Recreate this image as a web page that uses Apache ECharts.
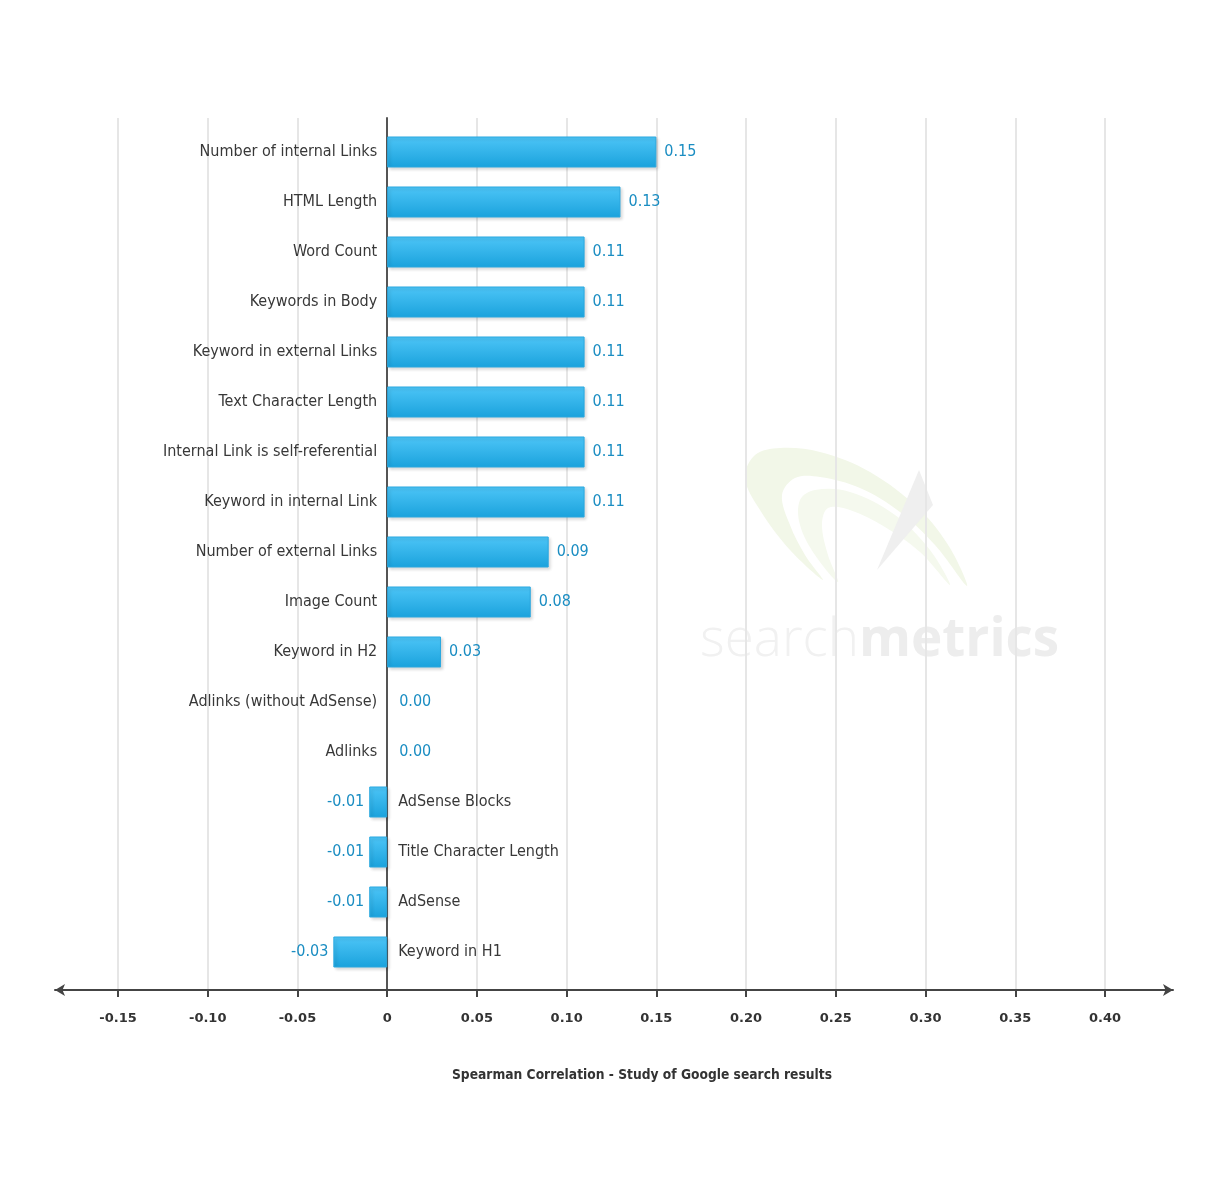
<!DOCTYPE html>
<html>
<head>
<meta charset="utf-8">
<script src="https://cdn.jsdelivr.net/npm/echarts@6/dist/echarts.min.js"></script>
<style>html,body{margin:0;padding:0;background:#fff}#c{width:1221px;height:1200px}</style>
</head>
<body>
<div id="c"></div>
<script>
var categories = ["Number of internal Links","HTML Length","Word Count","Keywords in Body","Keyword in external Links","Text Character Length","Internal Link is self-referential","Keyword in internal Link","Number of external Links","Image Count","Keyword in H2","Adlinks (without AdSense)","Adlinks","AdSense Blocks","Title Character Length","AdSense","Keyword in H1"];
var values = [0.15,0.13,0.11,0.11,0.11,0.11,0.11,0.11,0.09,0.08,0.03,0.00,0.00,-0.01,-0.01,-0.01,-0.03];
var axisMin = -0.15, axisMax = 0.40, axisStep = 0.05;
var axisTitle = "Spearman Correlation - Study of Google search results";

var FONT = "DejaVu Sans Condensed, DejaVu Sans, sans-serif";
var chart = echarts.init(document.getElementById('c'));

var barData = values.map(function(v){
  var d = {
    value: v,
    label: {
      position: v < 0 ? 'left' : 'right',
      distance: v === 0 ? 12 : (v < 0 ? 5 : 8)
    }
  };
  if (v === 0) d.itemStyle = { color: 'rgba(0,0,0,0)', borderWidth: 0, borderColor: 'rgba(0,0,0,0)', shadowColor: 'rgba(0,0,0,0)', shadowBlur: 0, shadowOffsetX: 0, shadowOffsetY: 0 };
  return d;
});
var nameData = values.map(function(v, i){
  return {
    value: v,
    label: {
      position: v < 0 ? 'right' : 'left',
      distance: v < 0 ? 11 : 10,
      formatter: categories[i]
    }
  };
});

var option = {
  animation: false,
  backgroundColor: '#fff',
  title: {
    text: axisTitle,
    left: 447, top: 1063,
    textStyle: { fontFamily: FONT, fontSize: 13.7, fontWeight: 'bold', color: '#333' }
  },
  graphic: [
    { type: 'polygon', z: 0, shape: { smooth: 0.35, points: [[823,580],[790,550],[760,510],[745,478],[755,455],[780,448],[820,452],[870,472],[920,510],[950,548],[967,586],[935,545],[900,512],[860,488],[820,477],[795,478],[782,495],[790,525],[805,555]] }, style: { fill: '#f2f7e8' } },
    { type: 'polygon', z: 0, shape: { smooth: 0.35, points: [[838,582],[815,555],[800,525],[800,500],[815,490],[850,492],[895,515],[930,550],[950,585],[920,552],[885,527],[850,510],[828,508],[822,525],[828,555]] }, style: { fill: '#f5f9ee' } },
    { type: 'polygon', z: 0, shape: { points: [[919,470],[933,505],[877,570]] }, style: { fill: '#efefef' } },
    { type: 'text', z: 0, left: 700, top: 614, style: { text: '{a|search}{b|metrics}', rich: {
        a: { fontFamily: 'Open Sans, DejaVu Sans, sans-serif', fontSize: 53, fontWeight: 300, fill: '#f1f1f1' },
        b: { fontFamily: 'Open Sans, DejaVu Sans, sans-serif', fontSize: 53, fontWeight: 'bold', fill: '#ededed' }
      } } }
  ],
  grid: [
    { left: 118, right: 116, top: 118, bottom: 210 },
    { left: 55, right: 48, top: 118, bottom: 210 },
    { left: 118, right: 116, top: 127, bottom: 223 }
  ],
  xAxis: [
    {
      gridIndex: 0, type: 'value', min: axisMin, max: axisMax, interval: axisStep,
      axisLine: { show: false },
      axisTick: { show: true, length: 7, lineStyle: { color: '#444', width: 2 } },
      axisLabel: { margin: 22, fontFamily: 'DejaVu Sans, sans-serif', fontSize: 13, fontWeight: 'bold', color: '#333',
        formatter: function(v){ return Math.abs(v) < 1e-9 ? '0' : v.toFixed(2); } },
      splitLine: { show: true, lineStyle: { color: '#e6e6e6', width: 2 } }
    },
    {
      gridIndex: 1, type: 'value', min: 0, max: 1,
      axisLine: { show: true, onZero: false, symbol: ['arrow','arrow'], symbolSize: [9, 10], lineStyle: { color: '#444', width: 2 } },
      axisTick: { show: false }, axisLabel: { show: false }, splitLine: { show: false }
    },
    {
      gridIndex: 2, type: 'value', min: axisMin, max: axisMax, interval: axisStep, show: false,
      splitLine: { show: false }
    }
  ],
  yAxis: [
    {
      gridIndex: 0, type: 'value', min: 0, max: 1,
      axisLine: { show: true, onZero: true, lineStyle: { color: '#555', width: 2 } },
      axisTick: { show: false }, axisLabel: { show: false }, splitLine: { show: false }
    },
    { gridIndex: 1, type: 'value', show: false, splitLine: { show: false } },
    {
      gridIndex: 2, type: 'category', data: categories, inverse: true,
      axisLine: { show: false }, axisTick: { show: false }, axisLabel: { show: false }, splitLine: { show: false }
    }
  ],
  series: [
    {
      type: 'bar', xAxisIndex: 2, yAxisIndex: 2, data: barData, barWidth: 31, z: 3,
      itemStyle: {
        color: { type: 'linear', x: 0, y: 0, x2: 0, y2: 1, colorStops: [
          { offset: 0, color: '#4dc5f7' }, { offset: 1, color: '#1aa2dc' }
        ] },
        borderColor: '#2aa9e0', borderWidth: 1,
        shadowColor: 'rgba(0,0,0,0.15)', shadowBlur: 3, shadowOffsetX: 2, shadowOffsetY: 2
      },
      label: {
        show: true, fontFamily: FONT, fontSize: 16, color: '#1a8dc2',
        formatter: function(p){ return p.value.toFixed(2); }
      }
    },
    {
      type: 'bar', xAxisIndex: 2, yAxisIndex: 2, data: nameData, barWidth: 31, barGap: '-100%', z: 4,
      itemStyle: { color: 'rgba(0,0,0,0)' },
      label: { show: true, fontFamily: FONT, fontSize: 16, color: '#383838' },
      silent: true
    }
  ]
};
chart.setOption(option);
</script>
</body>
</html>
